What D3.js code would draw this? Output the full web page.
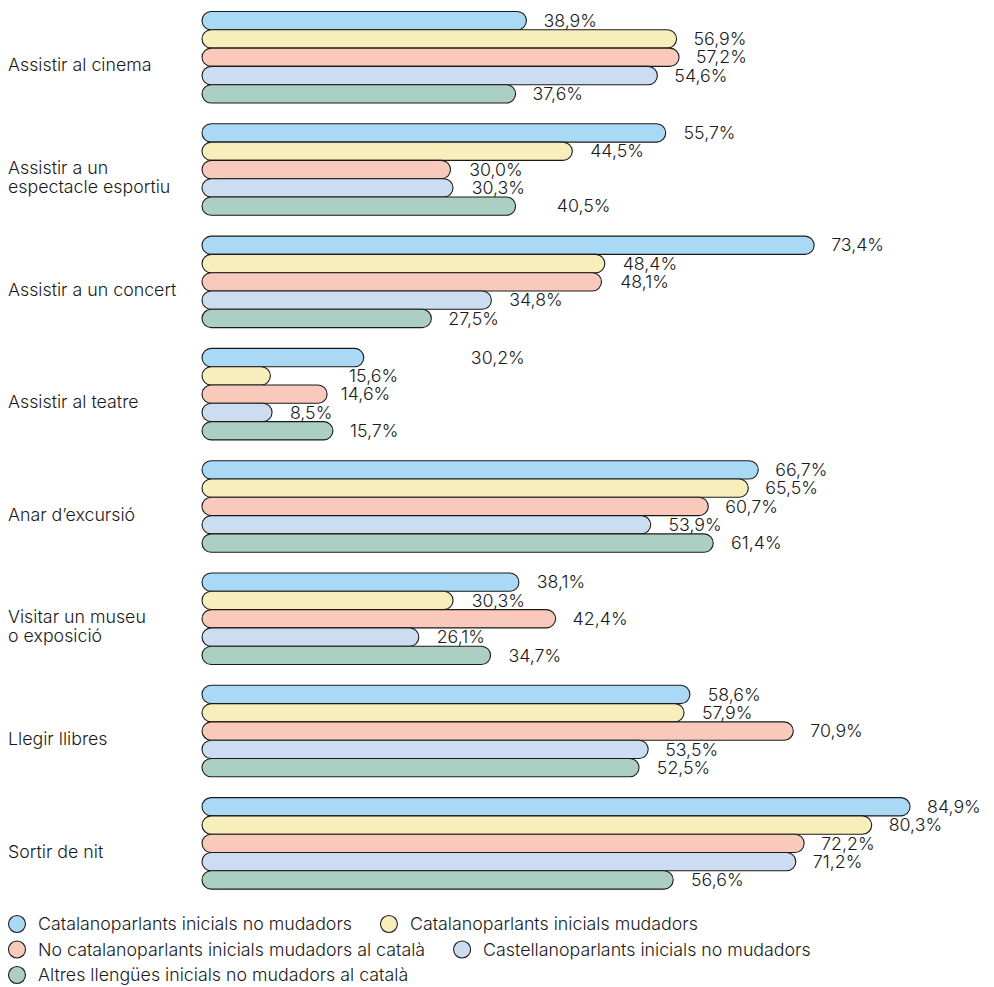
<!DOCTYPE html>
<html>
<head>
<meta charset="utf-8">
<script src="https://cdn.jsdelivr.net/npm/d3@7"></script>
<style>
  html, body { margin: 0; padding: 0; background: #fff; }
  svg { display: block; }
  text { font-family: Inter, "Noto Sans", sans-serif; fill: #1a1a1a; font-weight: 300; }
</style>
</head>
<body>
<svg id="chart" width="994" height="987"></svg>
<script>
// ---- data ----
const categories = [
  ["Assistir al cinema"],
  ["Assistir a un", "espectacle esportiu"],
  ["Assistir a un concert"],
  ["Assistir al teatre"],
  ["Anar d\u2019excursió"],
  ["Visitar un museu", "o exposició"],
  ["Llegir llibres"],
  ["Sortir de nit"]
];
const seriesNames = [
  "Catalanoparlants inicials no mudadors",
  "Catalanoparlants inicials mudadors",
  "No catalanoparlants inicials mudadors al català",
  "Castellanoparlants inicials no mudadors",
  "Altres llengües inicials no mudadors al català"
];
const seriesColors = ["#aad9f5", "#f7eebc", "#f9c9bc", "#ccdcf1", "#accfc3"];
// printed label values (one array per series, in category order)
const labelCatNoMud   = [38.9, 55.7, 73.4, 30.2, 66.7, 38.1, 58.6, 84.9];
const labelCatMud     = [56.9, 44.5, 48.4, 15.6, 65.5, 30.3, 57.9, 80.3];
const labelNoCatMud   = [57.2, 30.0, 48.1, 14.6, 60.7, 42.4, 70.9, 72.2];
const labelCastNoMud  = [54.6, 30.3, 34.8,  8.5, 53.9, 26.1, 53.5, 71.2];
const labelAltres     = [37.6, 40.5, 27.5, 15.7, 61.4, 34.7, 52.5, 56.6];
// drawn bar lengths (some differ from the printed labels)
const barCatNoMud     = [38.9, 55.6, 73.4, 19.4, 66.7, 38.0, 58.5, 84.9];
const barCatMud       = [56.9, 44.4, 48.3,  8.2, 65.5, 30.1, 57.8, 80.3];
const barNoCatMud     = [57.2, 29.8, 47.9, 15.0, 60.7, 42.4, 70.9, 72.2];
const barCastNoMud    = [54.6, 30.1, 34.7,  8.4, 53.8, 26.0, 53.5, 71.2];
const barAltres       = [37.6, 37.6, 27.5, 15.7, 61.3, 34.6, 52.4, 56.5];

const labelSeries = [labelCatNoMud, labelCatMud, labelNoCatMud, labelCastNoMud, labelAltres];
const barSeries = [barCatNoMud, barCatMud, barNoCatMud, barCastNoMud, barAltres];

const fmt = v => d3.format(".1f")(v).replace(".", ",") + "%";
const FS = 17.8;

const svg = d3.select("#chart");
const x = d3.scaleLinear().domain([0, 100]).range([202, 1036]);
const groupPad = 0.185;
const y0 = d3.scaleBand().domain(d3.range(categories.length)).range([11.5, 889.1])
  .paddingInner(groupPad).paddingOuter(0);
const y1 = d3.scaleBand().domain(d3.range(seriesNames.length)).range([0, y0.bandwidth()]).padding(0);

const groups = svg.selectAll("g.grp").data(categories).join("g")
  .attr("class", "grp")
  .attr("transform", (d, i) => `translate(0,${y0(i)})`);

// category labels
groups.each(function(lines, gi) {
  const g = d3.select(this);
  const cy = y0.bandwidth() / 2 + 8;
  const lh = 19;
  const t = g.append("text").attr("x", 8).attr("font-size", FS);
  lines.forEach((ln, li) => {
    t.append("tspan").attr("x", 8)
      .attr("y", cy + (li - (lines.length - 1) / 2) * lh)
      .attr("dy", "0.35em").text(ln);
  });
});

// bars
groups.each(function(_, gi) {
  const g = d3.select(this);
  const h = y1.bandwidth();
  seriesNames.forEach((s, si) => {
    const v = barSeries[si][gi];
    g.append("rect")
      .attr("x", x(0))
      .attr("y", y1(si))
      .attr("width", x(v) - x(0))
      .attr("height", h)
      .attr("rx", h / 2).attr("ry", h / 2)
      .attr("fill", seriesColors[si])
      .attr("stroke", "#1a1a1a")
      .attr("stroke-width", 1.1);
  });
  seriesNames.forEach((s, si) => {
    const lv = labelSeries[si][gi];
    g.append("text")
      .attr("x", x(lv) + 17)
      .attr("y", y1(si) + h / 2)
      .attr("dy", "0.35em")
      .attr("font-size", FS)
      .text(fmt(lv));
  });
});

// legend (flow layout)
const legend = svg.append("g");
let lx = 8, row = 0;
const rowY = [924, 949.5, 975];
const maxX = 986;
seriesNames.forEach((name, i) => {
  const it = legend.append("g");
  it.append("circle").attr("cx", 9).attr("cy", 0).attr("r", 8.5)
    .attr("fill", seriesColors[i]).attr("stroke", "#1a1a1a").attr("stroke-width", 1.1);
  const t = it.append("text").attr("x", 30).attr("y", 0).attr("dy", "0.35em")
    .attr("font-size", FS).text(name);
  const w = 30 + t.node().getComputedTextLength();
  if (lx > 8 && lx + w > maxX) { row++; lx = 8; }
  it.attr("transform", `translate(${lx},${rowY[row]})`);
  lx += w + 28;
});
</script>
</body>
</html>
